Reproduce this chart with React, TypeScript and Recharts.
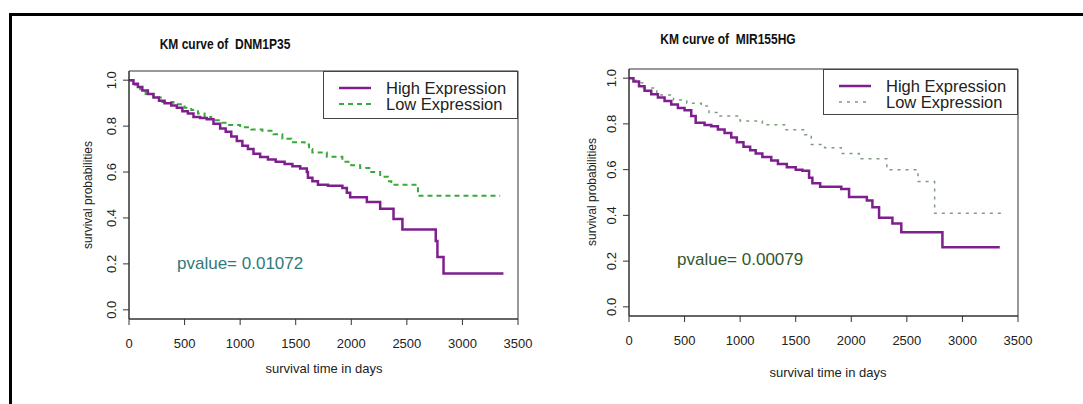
import React from "react";
import { Legend, Line, LineChart, ReferenceArea, XAxis, YAxis } from "recharts";

type KmPoint = { t: number; s: number };

const xTicks = [0, 500, 1000, 1500, 2000, 2500, 3000, 3500];
const yTicks = [0, 0.2, 0.4, 0.6, 0.8, 1.0];

// DNM1P35
const dnmHigh: KmPoint[] = [
  { t: 0, s: 1.0 }, { t: 40, s: 0.985 }, { t: 80, s: 0.97 }, { t: 120, s: 0.955 },
  { t: 170, s: 0.94 }, { t: 220, s: 0.925 }, { t: 270, s: 0.91 }, { t: 320, s: 0.9 },
  { t: 380, s: 0.89 }, { t: 430, s: 0.88 }, { t: 480, s: 0.865 }, { t: 530, s: 0.855 },
  { t: 580, s: 0.84 }, { t: 640, s: 0.835 }, { t: 700, s: 0.83 }, { t: 760, s: 0.81 },
  { t: 820, s: 0.79 }, { t: 870, s: 0.775 }, { t: 920, s: 0.755 }, { t: 970, s: 0.735 },
  { t: 1020, s: 0.715 }, { t: 1070, s: 0.7 }, { t: 1120, s: 0.68 }, { t: 1180, s: 0.665 },
  { t: 1250, s: 0.655 }, { t: 1320, s: 0.645 }, { t: 1400, s: 0.635 }, { t: 1470, s: 0.625 },
  { t: 1540, s: 0.615 }, { t: 1600, s: 0.6 }, { t: 1610, s: 0.575 }, { t: 1650, s: 0.56 },
  { t: 1700, s: 0.545 }, { t: 1790, s: 0.54 }, { t: 1920, s: 0.53 }, { t: 1960, s: 0.51 },
  { t: 1990, s: 0.49 }, { t: 2140, s: 0.47 }, { t: 2260, s: 0.44 }, { t: 2380, s: 0.395 },
  { t: 2460, s: 0.35 }, { t: 2760, s: 0.3 }, { t: 2775, s: 0.23 }, { t: 2830, s: 0.158 },
  { t: 3369, s: 0.158 },
];
const dnmLow: KmPoint[] = [
  { t: 0, s: 1.0 }, { t: 50, s: 0.98 }, { t: 100, s: 0.96 }, { t: 150, s: 0.94 },
  { t: 220, s: 0.925 }, { t: 300, s: 0.905 }, { t: 400, s: 0.895 }, { t: 500, s: 0.88 },
  { t: 560, s: 0.87 }, { t: 620, s: 0.855 }, { t: 680, s: 0.84 }, { t: 740, s: 0.825 },
  { t: 820, s: 0.815 }, { t: 900, s: 0.805 }, { t: 1000, s: 0.795 }, { t: 1100, s: 0.785 },
  { t: 1200, s: 0.78 }, { t: 1300, s: 0.765 }, { t: 1380, s: 0.745 }, { t: 1460, s: 0.73 },
  { t: 1580, s: 0.72 }, { t: 1620, s: 0.7 }, { t: 1650, s: 0.685 }, { t: 1780, s: 0.667 },
  { t: 1920, s: 0.645 }, { t: 2000, s: 0.63 }, { t: 2080, s: 0.618 }, { t: 2180, s: 0.6 },
  { t: 2260, s: 0.58 }, { t: 2330, s: 0.56 }, { t: 2360, s: 0.545 }, { t: 2600, s: 0.497 },
  { t: 3340, s: 0.497 },
];

// MIR155HG
const mirHigh: KmPoint[] = [
  { t: 0, s: 1.0 }, { t: 40, s: 0.985 }, { t: 90, s: 0.965 }, { t: 140, s: 0.945 },
  { t: 200, s: 0.93 }, { t: 260, s: 0.915 }, { t: 320, s: 0.9 }, { t: 380, s: 0.885 },
  { t: 440, s: 0.87 }, { t: 500, s: 0.86 }, { t: 560, s: 0.835 }, { t: 600, s: 0.805 },
  { t: 680, s: 0.795 }, { t: 740, s: 0.79 }, { t: 800, s: 0.775 }, { t: 860, s: 0.76 },
  { t: 920, s: 0.74 }, { t: 970, s: 0.72 }, { t: 1030, s: 0.7 }, { t: 1090, s: 0.685 },
  { t: 1140, s: 0.67 }, { t: 1200, s: 0.655 }, { t: 1280, s: 0.64 }, { t: 1340, s: 0.625 },
  { t: 1420, s: 0.61 }, { t: 1500, s: 0.6 }, { t: 1560, s: 0.595 }, { t: 1620, s: 0.565 },
  { t: 1650, s: 0.54 }, { t: 1720, s: 0.525 }, { t: 1910, s: 0.515 }, { t: 1980, s: 0.48 },
  { t: 2140, s: 0.465 }, { t: 2190, s: 0.435 }, { t: 2250, s: 0.39 }, { t: 2370, s: 0.365 },
  { t: 2450, s: 0.326 }, { t: 2820, s: 0.261 }, { t: 3336, s: 0.261 },
];
const mirLow: KmPoint[] = [
  { t: 0, s: 1.0 }, { t: 60, s: 0.98 }, { t: 130, s: 0.957 }, { t: 250, s: 0.926 },
  { t: 400, s: 0.904 }, { t: 520, s: 0.89 }, { t: 650, s: 0.878 }, { t: 720, s: 0.85 },
  { t: 800, s: 0.835 }, { t: 1000, s: 0.813 }, { t: 1200, s: 0.796 }, { t: 1400, s: 0.774 },
  { t: 1580, s: 0.752 }, { t: 1640, s: 0.71 }, { t: 1760, s: 0.696 }, { t: 1910, s: 0.67 },
  { t: 2070, s: 0.648 }, { t: 2320, s: 0.6 }, { t: 2600, s: 0.548 }, { t: 2750, s: 0.409 },
  { t: 3363, s: 0.409 },
];

const FONT = "'Liberation Sans', Arial, sans-serif";
const PURPLE = "#7e1f8e";

function YTick(props: any) {
  const { x, y, payload } = props;
  return (
    <text
      x={x}
      y={y}
      transform={`rotate(-90, ${x}, ${y})`}
      textAnchor="middle"
      fontSize={13}
      fontFamily={FONT}
      fill="#222"
    >
      {Number(payload.value).toFixed(1)}
    </text>
  );
}

function PanelChart(props: {
  top: number;
  bottom: number;
  high: KmPoint[];
  low: KmPoint[];
  lowColor: string;
  lowDash: string;
  lowWidth: number;
}) {
  const { top, bottom, high, low, lowColor, lowDash, lowWidth } = props;
  const xAxisHeight = 60;
  const boxH = top === 71 ? 48 : 46;
  const legendContent = () => (
    <div
      style={{
        width: 195,
        height: boxH,
        boxSizing: "border-box",
        border: "1px solid #444",
        background: "#fff",
        fontFamily: FONT,
        fontSize: 16.5,
        color: "#222",
        position: "relative",
      }}
    >
      {[
        { name: "High Expression", color: PURPLE, dash: undefined as string | undefined, w: 2.5, y: 16 },
        { name: "Low Expression", color: lowColor, dash: lowDash, w: lowWidth, y: 32 },
      ].map((r) => (
        <div key={r.name} style={{ position: "absolute", left: 0, top: r.y - 7, height: 14, width: 195 }}>
          <svg width={50} height={14} style={{ position: "absolute", left: 0, top: 0 }}>
            <line x1={15} x2={47} y1={7} y2={7} stroke={r.color} strokeWidth={r.w} strokeDasharray={r.dash} />
          </svg>
          <span style={{ position: "absolute", left: 62, top: 0, lineHeight: "14px", whiteSpace: "nowrap" }}>
            {r.name}
          </span>
        </div>
      ))}
    </div>
  );

  return (
    <LineChart
      width={540}
      height={404}
      margin={{ top, right: 22, bottom: 404 - bottom - xAxisHeight, left: 0 }}
    >
      <XAxis
        dataKey="t"
        type="number"
        domain={[0, 3500]}
        ticks={xTicks}
        allowDataOverflow
        height={xAxisHeight}
        tickSize={6}
        tickMargin={14}
        stroke="#333"
        tick={{ fontSize: 13, fontFamily: FONT, fill: "#222" }}
      />
      <YAxis
        dataKey="s"
        type="number"
        domain={[-0.04, 1.04]}
        ticks={yTicks}
        allowDataOverflow
        width={129}
        tickSize={6}
        tickMargin={7}
        stroke="#333"
        tick={<YTick />}
      />
      <ReferenceArea x1={0} x2={3500} y1={-0.04} y2={1.04} fill="none" stroke="#333" strokeWidth={1} />
      <Line
        data={low}
        dataKey="s"
        type="stepAfter"
        stroke={lowColor}
        strokeWidth={lowWidth}
        strokeDasharray={lowDash}
        dot={false}
        isAnimationActive={false}
      />
      <Line
        data={high}
        dataKey="s"
        type="stepAfter"
        stroke={PURPLE}
        strokeWidth={2.5}
        dot={false}
        isAnimationActive={false}
      />
      <Legend
        layout="vertical"
        align="center"
        verticalAlign="middle"
        content={legendContent}
        wrapperStyle={{ left: 323, top, width: 195, height: boxH }}
      />
    </LineChart>
  );
}

const titleStyle: React.CSSProperties = {
  position: "absolute",
  fontWeight: "bold",
  fontSize: 15,
  whiteSpace: "pre",
  color: "#111",
};

export default function App() {
  return (
    <div
      style={{
        position: "absolute",
        left: 0,
        top: 0,
        width: 1083,
        height: 404,
        background: "#fff",
        overflow: "hidden",
        fontFamily: FONT,
      }}
    >
      <div
        style={{
          position: "absolute",
          left: 9,
          top: 13,
          width: 1100,
          height: 420,
          borderTop: "3px solid #000",
          borderLeft: "3px solid #000",
        }}
      />
      <div style={{ position: "absolute", left: 0, top: 0, width: 540, height: 404 }}>
        <PanelChart top={71} bottom={319} high={dnmHigh} low={dnmLow} lowColor="#3aa83a" lowDash="5 4" lowWidth={2} />
      </div>
      <div style={{ position: "absolute", left: 500, top: 0, width: 540, height: 404 }}>
        <PanelChart top={69} bottom={316} high={mirHigh} low={mirLow} lowColor="#7f9c7f" lowDash="3 5" lowWidth={1.5} />
      </div>

      <div style={{ ...titleStyle, left: 225, top: 43, transform: "translate(-50%,-50%) scaleX(0.8)" }}>
        KM curve of  DNM1P35
      </div>
      <div style={{ ...titleStyle, left: 728, top: 38, transform: "translate(-50%,-50%) scaleX(0.8)" }}>
        KM curve of  MIR155HG
      </div>

      <div style={{ position: "absolute", left: 88, top: 195, transform: "translate(-50%,-50%) rotate(-90deg)", fontSize: 12, whiteSpace: "nowrap", color: "#222" }}>
        survival probabilities
      </div>
      <div style={{ position: "absolute", left: 592, top: 192, transform: "translate(-50%,-50%) rotate(-90deg)", fontSize: 12, whiteSpace: "nowrap", color: "#222" }}>
        survival probabilities
      </div>

      <div style={{ position: "absolute", left: 324, top: 368, transform: "translate(-50%,-50%)", fontSize: 13, whiteSpace: "nowrap", color: "#222" }}>
        survival time in days
      </div>
      <div style={{ position: "absolute", left: 828, top: 372, transform: "translate(-50%,-50%)", fontSize: 13, whiteSpace: "nowrap", color: "#222" }}>
        survival time in days
      </div>

      <div style={{ position: "absolute", left: 177, top: 264, transform: "translateY(-50%)", fontSize: 17, whiteSpace: "nowrap", color: "#2f7a7a" }}>
        pvalue= 0.01072
      </div>
      <div style={{ position: "absolute", left: 677, top: 260, transform: "translateY(-50%)", fontSize: 17, whiteSpace: "nowrap", color: "#34572f" }}>
        pvalue= 0.00079
      </div>
    </div>
  );
}
